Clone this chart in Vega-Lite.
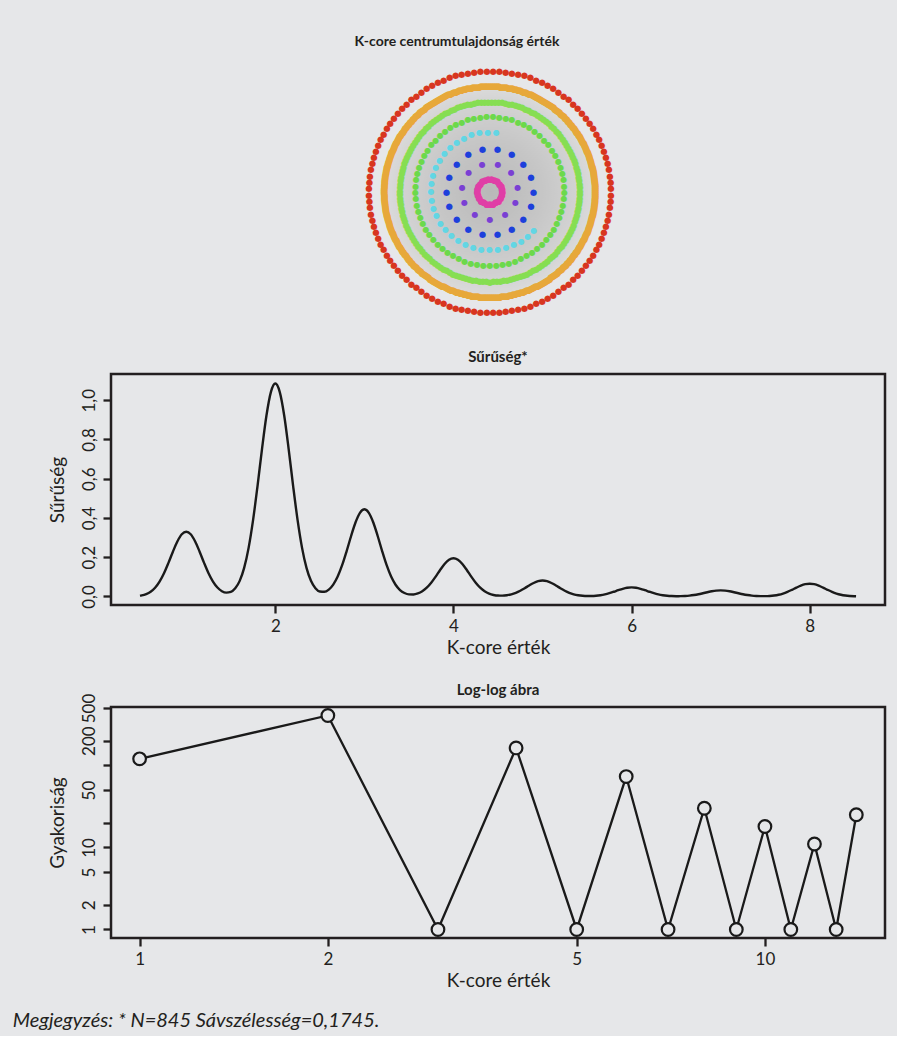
{
"$schema": "https://vega.github.io/schema/vega-lite/v6.json",
"background": "#e6e7e9",
"padding": {"left": 12, "top": 35, "right": 10, "bottom": 4},
"spacing": 22,
"datasets": {
"nodes": [
{"k":1},{"k":1},{"k":1},{"k":1},{"k":1},{"k":1},{"k":1},{"k":1},{"k":1},{"k":1},
{"k":1},{"k":1},{"k":1},{"k":1},{"k":1},{"k":1},{"k":1},{"k":1},{"k":1},{"k":1},
{"k":1},{"k":1},{"k":1},{"k":1},{"k":1},{"k":1},{"k":1},{"k":1},{"k":1},{"k":1},
{"k":1},{"k":1},{"k":1},{"k":1},{"k":1},{"k":1},{"k":1},{"k":1},{"k":1},{"k":1},
{"k":1},{"k":1},{"k":1},{"k":1},{"k":1},{"k":1},{"k":1},{"k":1},{"k":1},{"k":1},
{"k":1},{"k":1},{"k":1},{"k":1},{"k":1},{"k":1},{"k":1},{"k":1},{"k":1},{"k":1},
{"k":1},{"k":1},{"k":1},{"k":1},{"k":1},{"k":1},{"k":1},{"k":1},{"k":1},{"k":1},
{"k":1},{"k":1},{"k":1},{"k":1},{"k":1},{"k":1},{"k":1},{"k":1},{"k":1},{"k":1},
{"k":1},{"k":1},{"k":1},{"k":1},{"k":1},{"k":1},{"k":1},{"k":1},{"k":1},{"k":1},
{"k":1},{"k":1},{"k":1},{"k":1},{"k":1},{"k":1},{"k":1},{"k":1},{"k":1},{"k":1},
{"k":1},{"k":1},{"k":1},{"k":1},{"k":1},{"k":1},{"k":1},{"k":1},{"k":1},{"k":1},
{"k":1},{"k":1},{"k":1},{"k":1},{"k":1},{"k":1},{"k":1},{"k":1},{"k":1},{"k":1},
{"k":2},{"k":2},{"k":2},{"k":2},{"k":2},{"k":2},{"k":2},{"k":2},{"k":2},{"k":2},
{"k":2},{"k":2},{"k":2},{"k":2},{"k":2},{"k":2},{"k":2},{"k":2},{"k":2},{"k":2},
{"k":2},{"k":2},{"k":2},{"k":2},{"k":2},{"k":2},{"k":2},{"k":2},{"k":2},{"k":2},
{"k":2},{"k":2},{"k":2},{"k":2},{"k":2},{"k":2},{"k":2},{"k":2},{"k":2},{"k":2},
{"k":2},{"k":2},{"k":2},{"k":2},{"k":2},{"k":2},{"k":2},{"k":2},{"k":2},{"k":2},
{"k":2},{"k":2},{"k":2},{"k":2},{"k":2},{"k":2},{"k":2},{"k":2},{"k":2},{"k":2},
{"k":2},{"k":2},{"k":2},{"k":2},{"k":2},{"k":2},{"k":2},{"k":2},{"k":2},{"k":2},
{"k":2},{"k":2},{"k":2},{"k":2},{"k":2},{"k":2},{"k":2},{"k":2},{"k":2},{"k":2},
{"k":2},{"k":2},{"k":2},{"k":2},{"k":2},{"k":2},{"k":2},{"k":2},{"k":2},{"k":2},
{"k":2},{"k":2},{"k":2},{"k":2},{"k":2},{"k":2},{"k":2},{"k":2},{"k":2},{"k":2},
{"k":2},{"k":2},{"k":2},{"k":2},{"k":2},{"k":2},{"k":2},{"k":2},{"k":2},{"k":2},
{"k":2},{"k":2},{"k":2},{"k":2},{"k":2},{"k":2},{"k":2},{"k":2},{"k":2},{"k":2},
{"k":2},{"k":2},{"k":2},{"k":2},{"k":2},{"k":2},{"k":2},{"k":2},{"k":2},{"k":2},
{"k":2},{"k":2},{"k":2},{"k":2},{"k":2},{"k":2},{"k":2},{"k":2},{"k":2},{"k":2},
{"k":2},{"k":2},{"k":2},{"k":2},{"k":2},{"k":2},{"k":2},{"k":2},{"k":2},{"k":2},
{"k":2},{"k":2},{"k":2},{"k":2},{"k":2},{"k":2},{"k":2},{"k":2},{"k":2},{"k":2},
{"k":2},{"k":2},{"k":2},{"k":2},{"k":2},{"k":2},{"k":2},{"k":2},{"k":2},{"k":2},
{"k":2},{"k":2},{"k":2},{"k":2},{"k":2},{"k":2},{"k":2},{"k":2},{"k":2},{"k":2},
{"k":2},{"k":2},{"k":2},{"k":2},{"k":2},{"k":2},{"k":2},{"k":2},{"k":2},{"k":2},
{"k":2},{"k":2},{"k":2},{"k":2},{"k":2},{"k":2},{"k":2},{"k":2},{"k":2},{"k":2},
{"k":2},{"k":2},{"k":2},{"k":2},{"k":2},{"k":2},{"k":2},{"k":2},{"k":2},{"k":2},
{"k":2},{"k":2},{"k":2},{"k":2},{"k":2},{"k":2},{"k":2},{"k":2},{"k":2},{"k":2},
{"k":2},{"k":2},{"k":2},{"k":2},{"k":2},{"k":2},{"k":2},{"k":2},{"k":2},{"k":2},
{"k":2},{"k":2},{"k":2},{"k":2},{"k":2},{"k":2},{"k":2},{"k":2},{"k":2},{"k":2},
{"k":2},{"k":2},{"k":2},{"k":2},{"k":2},{"k":2},{"k":2},{"k":2},{"k":2},{"k":2},
{"k":2},{"k":2},{"k":2},{"k":2},{"k":2},{"k":2},{"k":2},{"k":2},{"k":2},{"k":2},
{"k":2},{"k":2},{"k":2},{"k":2},{"k":2},{"k":2},{"k":2},{"k":2},{"k":2},{"k":2},
{"k":2},{"k":2},{"k":2},{"k":2},{"k":2},{"k":2},{"k":2},{"k":2},{"k":2},{"k":2},
{"k":2},{"k":2},{"k":2},{"k":2},{"k":2},{"k":2},{"k":2},{"k":2},{"k":2},{"k":2},
{"k":2},{"k":2},{"k":2},{"k":2},{"k":2},{"k":2},{"k":2},{"k":2},{"k":2},{"k":2},
{"k":2},{"k":2},{"k":2},{"k":2},{"k":2},{"k":2},{"k":2},{"k":2},{"k":2},{"k":2},
{"k":2},{"k":2},{"k":2},{"k":2},{"k":2},{"k":2},{"k":2},{"k":2},{"k":2},{"k":2},
{"k":2},{"k":2},{"k":2},{"k":2},{"k":2},{"k":2},{"k":2},{"k":2},{"k":2},{"k":2},
{"k":2},{"k":2},{"k":2},{"k":2},{"k":2},
{"k":3},{"k":3},{"k":3},{"k":3},{"k":3},{"k":3},{"k":3},{"k":3},{"k":3},{"k":3},
{"k":3},{"k":3},{"k":3},{"k":3},{"k":3},{"k":3},{"k":3},{"k":3},{"k":3},{"k":3},
{"k":3},{"k":3},{"k":3},{"k":3},{"k":3},{"k":3},{"k":3},{"k":3},{"k":3},{"k":3},
{"k":3},{"k":3},{"k":3},{"k":3},{"k":3},{"k":3},{"k":3},{"k":3},{"k":3},{"k":3},
{"k":3},{"k":3},{"k":3},{"k":3},{"k":3},{"k":3},{"k":3},{"k":3},{"k":3},{"k":3},
{"k":3},{"k":3},{"k":3},{"k":3},{"k":3},{"k":3},{"k":3},{"k":3},{"k":3},{"k":3},
{"k":3},{"k":3},{"k":3},{"k":3},{"k":3},{"k":3},{"k":3},{"k":3},{"k":3},{"k":3},
{"k":3},{"k":3},{"k":3},{"k":3},{"k":3},{"k":3},{"k":3},{"k":3},{"k":3},{"k":3},
{"k":3},{"k":3},{"k":3},{"k":3},{"k":3},{"k":3},{"k":3},{"k":3},{"k":3},{"k":3},
{"k":3},{"k":3},{"k":3},{"k":3},{"k":3},{"k":3},{"k":3},{"k":3},{"k":3},{"k":3},
{"k":3},{"k":3},{"k":3},{"k":3},{"k":3},{"k":3},{"k":3},{"k":3},{"k":3},{"k":3},
{"k":3},{"k":3},{"k":3},{"k":3},{"k":3},{"k":3},{"k":3},{"k":3},{"k":3},{"k":3},
{"k":3},{"k":3},{"k":3},{"k":3},{"k":3},{"k":3},{"k":3},{"k":3},{"k":3},{"k":3},
{"k":3},{"k":3},{"k":3},{"k":3},{"k":3},{"k":3},{"k":3},{"k":3},{"k":3},{"k":3},
{"k":3},{"k":3},{"k":3},{"k":3},{"k":3},{"k":3},{"k":3},{"k":3},{"k":3},{"k":3},
{"k":3},{"k":3},{"k":3},{"k":3},{"k":3},{"k":3},{"k":3},{"k":3},{"k":3},{"k":3},
{"k":3},{"k":3},{"k":3},
{"k":4},{"k":4},{"k":4},{"k":4},{"k":4},{"k":4},{"k":4},{"k":4},{"k":4},{"k":4},
{"k":4},{"k":4},{"k":4},{"k":4},{"k":4},{"k":4},{"k":4},{"k":4},{"k":4},{"k":4},
{"k":4},{"k":4},{"k":4},{"k":4},{"k":4},{"k":4},{"k":4},{"k":4},{"k":4},{"k":4},
{"k":4},{"k":4},{"k":4},{"k":4},{"k":4},{"k":4},{"k":4},{"k":4},{"k":4},{"k":4},
{"k":4},{"k":4},{"k":4},{"k":4},{"k":4},{"k":4},{"k":4},{"k":4},{"k":4},{"k":4},
{"k":4},{"k":4},{"k":4},{"k":4},{"k":4},{"k":4},{"k":4},{"k":4},{"k":4},{"k":4},
{"k":4},{"k":4},{"k":4},{"k":4},{"k":4},{"k":4},{"k":4},{"k":4},{"k":4},{"k":4},
{"k":4},{"k":4},{"k":4},
{"k":5},{"k":5},{"k":5},{"k":5},{"k":5},{"k":5},{"k":5},{"k":5},{"k":5},{"k":5},
{"k":5},{"k":5},{"k":5},{"k":5},{"k":5},{"k":5},{"k":5},{"k":5},{"k":5},{"k":5},
{"k":5},{"k":5},{"k":5},{"k":5},{"k":5},{"k":5},{"k":5},{"k":5},{"k":5},{"k":5},
{"k":6},{"k":6},{"k":6},{"k":6},{"k":6},{"k":6},{"k":6},{"k":6},{"k":6},{"k":6},
{"k":6},{"k":6},{"k":6},{"k":6},{"k":6},{"k":6},{"k":6},{"k":6},
{"k":7},{"k":7},{"k":7},{"k":7},{"k":7},{"k":7},{"k":7},{"k":7},{"k":7},{"k":7},
{"k":7},
{"k":8},{"k":8},{"k":8},{"k":8},{"k":8},{"k":8},{"k":8},{"k":8},{"k":8},{"k":8},
{"k":8},{"k":8},{"k":8},{"k":8},{"k":8},{"k":8},{"k":8},{"k":8},{"k":8},{"k":8},
{"k":8},{"k":8},{"k":8},{"k":8},{"k":8}
],
"dens": [
{"x":0.48,"d":0.0039},{"x":0.5,"d":0.0054},{"x":0.55,"d":0.0119},{"x":0.6,"d":0.0239},{"x":0.65,"d":0.0442},{"x":0.7,"d":0.0753},{"x":0.75,"d":0.1182},{"x":0.8,"d":0.1711},{"x":0.85,"d":0.2281},{"x":0.9,"d":0.28},{"x":0.95,"d":0.3167},
{"x":1.0,"d":0.33},{"x":1.05,"d":0.3167},{"x":1.1,"d":0.28},{"x":1.15,"d":0.2281},{"x":1.2,"d":0.1711},{"x":1.25,"d":0.1182},{"x":1.3,"d":0.0756},{"x":1.35,"d":0.0453},{"x":1.4,"d":0.0268},{"x":1.45,"d":0.0195},
{"x":1.5,"d":0.0233},{"x":1.55,"d":0.0414},{"x":1.6,"d":0.0793},{"x":1.65,"d":0.1455},{"x":1.7,"d":0.2475},{"x":1.75,"d":0.3888},{"x":1.8,"d":0.5626},{"x":1.85,"d":0.7498},{"x":1.9,"d":0.9207},{"x":1.95,"d":1.0414},
{"x":2.0,"d":1.085},{"x":2.05,"d":1.0414},{"x":2.1,"d":0.9207},{"x":2.15,"d":0.7498},{"x":2.2,"d":0.5626},{"x":2.25,"d":0.3888},{"x":2.3,"d":0.2476},{"x":2.35,"d":0.1456},{"x":2.4,"d":0.0796},{"x":2.45,"d":0.0422},
{"x":2.5,"d":0.0252},{"x":2.55,"d":0.0236},{"x":2.6,"d":0.035},{"x":2.65,"d":0.0605},{"x":2.7,"d":0.1016},{"x":2.75,"d":0.1591},{"x":2.8,"d":0.2302},{"x":2.85,"d":0.3068},{"x":2.9,"d":0.3768},{"x":2.95,"d":0.4262},
{"x":3.0,"d":0.444},{"x":3.05,"d":0.4262},{"x":3.1,"d":0.3768},{"x":3.15,"d":0.3068},{"x":3.2,"d":0.2302},{"x":3.25,"d":0.1591},{"x":3.3,"d":0.1013},{"x":3.35,"d":0.0596},{"x":3.4,"d":0.0326},{"x":3.45,"d":0.0174},
{"x":3.5,"d":0.0105},{"x":3.55,"d":0.0101},{"x":3.6,"d":0.0153},{"x":3.65,"d":0.0265},{"x":3.7,"d":0.0445},{"x":3.75,"d":0.0699},{"x":3.8,"d":0.1011},{"x":3.85,"d":0.1348},{"x":3.9,"d":0.1655},{"x":3.95,"d":0.1872},
{"x":4.0,"d":0.195},{"x":4.05,"d":0.1872},{"x":4.1,"d":0.1655},{"x":4.15,"d":0.1348},{"x":4.2,"d":0.1011},{"x":4.25,"d":0.0699},{"x":4.3,"d":0.0445},{"x":4.35,"d":0.0262},{"x":4.4,"d":0.0143},{"x":4.45,"d":0.0076},
{"x":4.5,"d":0.0045},{"x":4.55,"d":0.0043},{"x":4.6,"d":0.0064},{"x":4.65,"d":0.011},{"x":4.7,"d":0.0185},{"x":4.75,"d":0.029},{"x":4.8,"d":0.042},{"x":4.85,"d":0.056},{"x":4.9,"d":0.0687},{"x":4.95,"d":0.0777},
{"x":5.0,"d":0.081},{"x":5.05,"d":0.0777},{"x":5.1,"d":0.0687},{"x":5.15,"d":0.056},{"x":5.2,"d":0.042},{"x":5.25,"d":0.029},{"x":5.3,"d":0.0185},{"x":5.35,"d":0.0108},{"x":5.4,"d":0.006},{"x":5.45,"d":0.0032},
{"x":5.5,"d":0.0021},{"x":5.55,"d":0.0023},{"x":5.6,"d":0.0035},{"x":5.65,"d":0.0062},{"x":5.7,"d":0.0105},{"x":5.75,"d":0.0165},{"x":5.8,"d":0.0239},{"x":5.85,"d":0.0318},{"x":5.9,"d":0.039},{"x":5.95,"d":0.0442},
{"x":6.0,"d":0.046},{"x":6.05,"d":0.0442},{"x":6.1,"d":0.039},{"x":6.15,"d":0.0318},{"x":6.2,"d":0.0239},{"x":6.25,"d":0.0165},{"x":6.3,"d":0.0105},{"x":6.35,"d":0.0062},{"x":6.4,"d":0.0034},{"x":6.45,"d":0.0019},
{"x":6.5,"d":0.0013},{"x":6.55,"d":0.0014},{"x":6.6,"d":0.0023},{"x":6.65,"d":0.0041},{"x":6.7,"d":0.0071},{"x":6.75,"d":0.0111},{"x":6.8,"d":0.0161},{"x":6.85,"d":0.0214},{"x":6.9,"d":0.0263},{"x":6.95,"d":0.0298},
{"x":7.0,"d":0.031},{"x":7.05,"d":0.0298},{"x":7.1,"d":0.0263},{"x":7.15,"d":0.0214},{"x":7.2,"d":0.0161},{"x":7.25,"d":0.0111},{"x":7.3,"d":0.0071},{"x":7.35,"d":0.0041},{"x":7.4,"d":0.0024},{"x":7.45,"d":0.0016},
{"x":7.5,"d":0.0016},{"x":7.55,"d":0.0025},{"x":7.6,"d":0.0048},{"x":7.65,"d":0.0087},{"x":7.7,"d":0.0148},{"x":7.75,"d":0.0233},{"x":7.8,"d":0.0337},{"x":7.85,"d":0.0449},{"x":7.9,"d":0.0552},{"x":7.95,"d":0.0624},
{"x":8.0,"d":0.065},{"x":8.05,"d":0.0624},{"x":8.1,"d":0.0552},{"x":8.15,"d":0.0449},{"x":8.2,"d":0.0337},{"x":8.25,"d":0.0233},{"x":8.3,"d":0.0148},{"x":8.35,"d":0.0087},{"x":8.4,"d":0.0047},{"x":8.45,"d":0.0023},
{"x":8.5,"d":0.0011},{"x":8.52,"d":0.0008}
],
"loglog": [
{"x":1,"f":120},{"x":2,"f":405},{"x":3,"f":1},{"x":4,"f":163},{"x":5,"f":1},{"x":6,"f":73},{"x":7,"f":1},
{"x":8,"f":30},{"x":9,"f":1},{"x":10,"f":18},{"x":11,"f":1},{"x":12,"f":11},{"x":13,"f":1},{"x":14,"f":25}
]
},
"title": {"text": "Megjegyzés: * N=845 Sávszélesség=0,1745.", "orient": "bottom", "anchor": "start", "fontStyle": "italic", "fontWeight": "normal", "fontSize": 20, "dx": -34, "offset": 20},
"vconcat": [
{
"width": 758, "height": 269,
"view": {"stroke": null},
"title": {"text": "K-core centrumtulajdonság érték", "dx": -33, "offset": 8, "fontSize": 14},
"data": {"name": "nodes"},
"layer": [
{"data": {"values": [{"k": 2}]},
 "mark": {"type": "arc", "fill": {"gradient": "radial", "x1": 0.5, "y1": 0.5, "x2": 0.5, "y2": 0.5, "r1": 0, "r2": 0.5, "stops": [{"offset": 0, "color": "#b8b8b8"}, {"offset": 0.5, "color": "#c6c6c6"}, {"offset": 0.85, "color": "#d3d3d3"}, {"offset": 1, "color": "#dbdbdb"}]}},
 "encoding": {"theta": {"field": "k", "type": "quantitative", "stack": "normalize"},
   "radius": {"field": "k", "type": "quantitative", "scale": {"type": "linear", "domain": [1, 8], "range": [121, 12.5], "zero": false}},
   "radius2": {"value": 0}}},
{"transform": [{"filter": "datum.k == 1"}],
 "mark": {"type": "text", "text": "●", "font": "DejaVu Sans", "fontSize": 8.5, "baseline": "middle", "align": "center", "color": "#d8361f"},
 "encoding": {"theta": {"field": "k", "type": "quantitative", "stack": "normalize"},
   "radius": {"field": "k", "type": "quantitative", "scale": {"type": "linear", "domain": [1, 8], "range": [121, 12.5], "zero": false}}}},
{"transform": [{"filter": "datum.k == 2"}],
 "mark": {"type": "text", "text": "●", "font": "DejaVu Sans", "fontSize": 9, "baseline": "middle", "align": "center", "color": "#e7a83a"},
 "encoding": {"theta": {"field": "k", "type": "quantitative", "stack": "normalize"},
   "radius": {"field": "k", "type": "quantitative", "scale": {"type": "linear", "domain": [1, 8], "range": [121, 12.5], "zero": false}}}},
{"transform": [{"filter": "datum.k == 3"}],
 "mark": {"type": "text", "text": "●", "font": "DejaVu Sans", "fontSize": 8.5, "baseline": "middle", "align": "center", "color": "#86de52"},
 "encoding": {"theta": {"field": "k", "type": "quantitative", "stack": "normalize"},
   "radius": {"field": "k", "type": "quantitative", "scale": {"type": "linear", "domain": [1, 8], "range": [121, 12.5], "zero": false}}}},
{"transform": [{"filter": "datum.k == 4"}],
 "mark": {"type": "text", "text": "●", "font": "DejaVu Sans", "fontSize": 8, "baseline": "middle", "align": "center", "color": "#6cd94b"},
 "encoding": {"theta": {"field": "k", "type": "quantitative", "stack": "normalize"},
   "radius": {"field": "k", "type": "quantitative", "scale": {"type": "linear", "domain": [1, 8], "range": [121, 12.5], "zero": false}}}},
{"transform": [{"filter": "datum.k == 5"}],
 "mark": {"type": "text", "text": "●", "font": "DejaVu Sans", "fontSize": 8, "baseline": "middle", "align": "center", "color": "#62d6e4"},
 "encoding": {"theta": {"field": "k", "type": "quantitative", "stack": "normalize", "scale": {"range": [2.234, 6.458]}},
   "radius": {"field": "k", "type": "quantitative", "scale": {"type": "linear", "domain": [1, 8], "range": [121, 12.5], "zero": false}}}},
{"transform": [{"filter": "datum.k == 6"}],
 "mark": {"type": "text", "text": "●", "font": "DejaVu Sans", "fontSize": 8.5, "baseline": "middle", "align": "center", "color": "#1d3fdc"},
 "encoding": {"theta": {"field": "k", "type": "quantitative", "stack": "normalize"},
   "radius": {"field": "k", "type": "quantitative", "scale": {"type": "linear", "domain": [1, 8], "range": [121, 12.5], "zero": false}}}},
{"transform": [{"filter": "datum.k == 7"}],
 "mark": {"type": "text", "text": "●", "font": "DejaVu Sans", "fontSize": 8, "baseline": "middle", "align": "center", "color": "#7a3fd4"},
 "encoding": {"theta": {"field": "k", "type": "quantitative", "stack": "normalize"},
   "radius": {"field": "k", "type": "quantitative", "scale": {"type": "linear", "domain": [1, 8], "range": [121, 12.5], "zero": false}}}},
{"transform": [{"filter": "datum.k == 8"}],
 "mark": {"type": "text", "text": "●", "font": "DejaVu Sans", "fontSize": 9, "baseline": "middle", "align": "center", "color": "#e03ea6"},
 "encoding": {"theta": {"field": "k", "type": "quantitative", "stack": "normalize"},
   "radius": {"field": "k", "type": "quantitative", "scale": {"type": "linear", "domain": [1, 8], "range": [121, 12.5], "zero": false}}}}
],
"resolve": {"scale": {"theta": "independent"}}
},
{
"width": 774, "height": 231,
"title": {"text": "Sűrűség*", "offset": 9},
"data": {"name": "dens"},
"mark": {"type": "line", "color": "#1a1a1a", "strokeWidth": 2.4, "interpolate": "monotone"},
"encoding": {
"x": {"field": "x", "type": "quantitative", "scale": {"domain": [0.155, 8.845], "nice": false, "zero": false}, "axis": {"values": [2, 4, 6, 8], "format": "d", "title": "K-core érték"}},
"y": {"field": "d", "type": "quantitative", "scale": {"domain": [-0.0436, 1.1336], "nice": false, "zero": false}, "axis": {"values": [0, 0.2, 0.4, 0.6, 0.8, 1], "labelExpr": "replace(format(datum.value, '.1f'), '.', ',')", "title": "Sűrűség"}}
}
},
{
"width": 774, "height": 231,
"title": {"text": "Log-log ábra", "offset": -5},
"data": {"name": "loglog"},
"encoding": {
"x": {"field": "x", "type": "quantitative", "scale": {"type": "log", "domain": [0.9, 15.56], "nice": false}, "axis": {"values": [1, 2, 5, 10], "format": "d", "title": "K-core érték"}},
"y": {"field": "f", "type": "quantitative", "scale": {"type": "log", "domain": [0.787, 514], "nice": false}, "axis": {"values": [1, 2, 5, 10, 20, 50, 100, 200, 500], "format": "d", "labelExpr": "datum.value == 20 || datum.value == 100 ? '' : datum.label", "title": "Gyakoriság"}}
},
"layer": [
{"mark": {"type": "line", "color": "#1a1a1a", "strokeWidth": 2.3}},
{"mark": {"type": "point", "shape": "circle", "filled": true, "fill": "#e6e7e9", "stroke": "#1a1a1a", "strokeWidth": 2.2, "size": 160, "opacity": 1}}
]
}
],
"config": {
"font": "Lato",
"view": {"stroke": "#231f20", "strokeWidth": 2.5},
"axis": {"domain": false, "grid": false, "ticks": true, "tickColor": "#231f20", "tickWidth": 2.3, "tickSize": 8, "labelFont": "Lato", "labelFontSize": 17, "labelColor": "#231f20", "labelOverlap": false, "labelFlush": false, "titleFont": "Lato", "titleFontSize": 19, "titleFontWeight": "normal", "titleColor": "#231f20"},
"axisY": {"labelAngle": -90, "labelAlign": "center", "labelBaseline": "bottom", "labelPadding": 5, "titlePadding": 13},
"axisX": {"labelPadding": 5, "titlePadding": 4},
"title": {"font": "Lato", "fontSize": 15, "fontWeight": "bold", "color": "#231f20"}
}
}
